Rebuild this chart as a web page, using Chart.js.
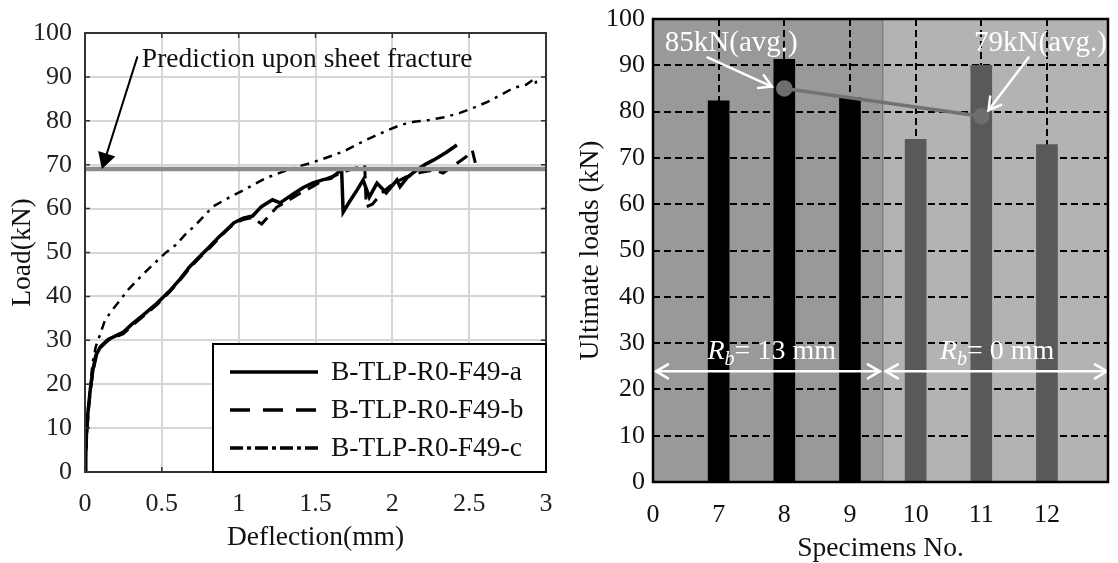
<!DOCTYPE html>
<html>
<head>
<meta charset="utf-8">
<script src="https://cdn.jsdelivr.net/npm/chart.js@4.4.1/dist/chart.umd.min.js"></script>
<style>
  html, body { margin: 0; padding: 0; background: #fff; }
  #left-box { position: absolute; left: 0; top: 0; width: 560px; height: 563px; }
  #right-box { position: absolute; left: 560px; top: 0; width: 558px; height: 563px; }
</style>
</head>
<body>
<div id="left-box"><canvas id="load-deflection-chart"></canvas></div>
<div id="right-box"><canvas id="ultimate-load-chart"></canvas></div>
<script>
// ---------- left chart: load vs deflection ----------
const seriesNames = ['B-TLP-R0-F49-a', 'B-TLP-R0-F49-b', 'B-TLP-R0-F49-c'];

const deflectionA = [0, 0.005, 0.01, 0.02, 0.035, 0.05, 0.07, 0.1, 0.15, 0.2, 0.25, 0.3, 0.38, 0.47, 0.55, 0.62, 0.68, 0.75, 0.81, 0.87, 0.92, 0.97, 1.03, 1.09, 1.15, 1.22, 1.27, 1.35, 1.42, 1.48, 1.55, 1.6, 1.65, 1.67, 1.68, 1.72, 1.77, 1.81, 1.85, 1.9, 1.96, 2.03, 2.05, 2.1, 2.16, 2.22, 2.27, 2.35, 2.42];
const loadA = [0, 4, 9, 14, 19, 23, 26.5, 28.5, 30.2, 31, 31.9, 33.5, 35.8, 38.5, 41.2, 44, 46.7, 49.2, 51.3, 53.5, 55.1, 56.8, 57.8, 58.3, 60.5, 62, 61.3, 63.2, 64.8, 65.8, 66.6, 66.9, 68.3, 68.8, 59.2, 61.5, 64.2, 66.5, 62.6, 65.8, 63.6, 66.5, 65, 67.2, 68.8, 70.2, 71.1, 72.8, 74.5];

const deflectionB = [0, 0.005, 0.012, 0.022, 0.037, 0.052, 0.075, 0.1, 0.15, 0.2, 0.25, 0.3, 0.38, 0.47, 0.55, 0.62, 0.68, 0.75, 0.81, 0.87, 0.92, 0.97, 1.03, 1.09, 1.12, 1.15, 1.2, 1.25, 1.32, 1.4, 1.48, 1.55, 1.66, 1.72, 1.79, 1.82, 1.83, 1.87, 1.93, 1.98, 2.04, 2.09, 2.18, 2.27, 2.33, 2.4, 2.48, 2.52, 2.54];
const loadB = [0, 4, 9, 14, 19, 23, 26.5, 28.3, 30, 30.8, 31.5, 33.2, 35.5, 38.2, 41, 43.8, 46.4, 49, 51, 53.2, 55, 56.6, 57.5, 58, 57.2, 56.5, 58.5, 60.4, 61.8, 63.5, 65, 66.5, 68, 68.8, 69.5, 70, 60.4, 61, 63.5, 65, 66.3, 67.2, 68.2, 68.8, 68.1, 69.8, 71.8, 73.3, 70.4];

const deflectionC = [0, 0.008, 0.015, 0.025, 0.035, 0.05, 0.07, 0.1, 0.13, 0.18, 0.23, 0.28, 0.34, 0.4, 0.46, 0.52, 0.59, 0.65, 0.72, 0.78, 0.83, 0.92, 1.01, 1.1, 1.18, 1.28, 1.38, 1.46, 1.53, 1.62, 1.7, 1.78, 1.87, 1.96, 2.05, 2.14, 2.24, 2.34, 2.44, 2.53, 2.62, 2.7, 2.79, 2.87, 2.93, 2.94];
const loadC = [0, 5, 10, 15, 20, 25, 28.5, 31.5, 34.6, 37, 39.2, 41.5, 43.7, 45.8, 47.8, 49.8, 51.7, 54, 56.3, 58.5, 60.4, 62.2, 63.8, 65.5, 67, 68.3, 69.5, 70.3, 71.1, 72.2, 73.3, 74.8, 76.3, 77.7, 79, 79.8, 80.2, 80.8, 81.8, 83, 84.3, 85.8, 87.5, 88.2, 89.7, 87.5];

const predictionLoad = 69; // kN, load predicted at sheet fracture
const predictionText = 'Prediction upon sheet fracture';

// ---------- right chart: ultimate loads ----------
const specimenNo = [7, 8, 9, 10, 11, 12];
const ultimateLoads = [82.3, 91.3, 83.0, 74.0, 90.0, 72.9];
const bendRadius = [13, 13, 13, 0, 0, 0]; // R_b in mm
const avgSpecimen = [8, 11];
const avgLoads = [85, 79];

const FONT = "'Times New Roman', 'Liberation Serif', serif";
Chart.defaults.font.family = FONT;
Chart.defaults.color = '#111';
Chart.defaults.animation = false;

const toPoints = (xs, ys) => xs.map((x, i) => ({ x: x, y: ys[i] }));

function arrowLine(ctx, x1, y1, x2, y2, opts) {
  const ang = Math.atan2(y2 - y1, x2 - x1);
  const len = opts.headLen, hw = opts.headHalf;
  ctx.save();
  ctx.strokeStyle = opts.color;
  ctx.fillStyle = opts.color;
  ctx.lineWidth = opts.width;
  ctx.lineCap = 'round';
  const bx = x2 - Math.cos(ang) * len, by = y2 - Math.sin(ang) * len;
  ctx.beginPath();
  ctx.moveTo(x1, y1);
  ctx.lineTo(opts.filled ? bx : x2, opts.filled ? by : y2);
  ctx.stroke();
  const lx = bx + Math.cos(ang + Math.PI / 2) * hw, ly = by + Math.sin(ang + Math.PI / 2) * hw;
  const rx = bx - Math.cos(ang + Math.PI / 2) * hw, ry = by - Math.sin(ang + Math.PI / 2) * hw;
  ctx.beginPath();
  if (opts.filled) {
    ctx.moveTo(x2, y2); ctx.lineTo(lx, ly); ctx.lineTo(rx, ry); ctx.closePath(); ctx.fill();
  } else {
    ctx.lineJoin = 'miter';
    ctx.moveTo(lx, ly); ctx.lineTo(x2, y2); ctx.lineTo(rx, ry); ctx.stroke();
  }
  ctx.restore();
}

// keep the chart area where the layout padding puts it
const noEdgePadding = s => { s.paddingLeft = 0; s.paddingRight = 0; s.paddingTop = 0; s.paddingBottom = 0; };

// annotations, border, inner ticks and legend for the left chart
const leftDecor = {
  id: 'leftDecor',
  afterDatasetsDraw(chart) {
    const { ctx, chartArea: a, scales: { x, y } } = chart;
    // prediction line
    ctx.save();
    ctx.strokeStyle = '#8c8c8c';
    ctx.lineWidth = 4.5;
    const py = y.getPixelForValue(predictionLoad);
    ctx.beginPath(); ctx.moveTo(a.left, py); ctx.lineTo(a.right, py); ctx.stroke();
    ctx.restore();

    arrowLine(ctx, x.getPixelForValue(0.34), y.getPixelForValue(94.5),
      x.getPixelForValue(0.11), py, { color: '#000', width: 2, headLen: 16, headHalf: 9, filled: true });

    ctx.save();
    ctx.font = '27.5px ' + FONT;
    ctx.fillStyle = '#111';
    ctx.textBaseline = 'middle';
    ctx.fillText(predictionText, x.getPixelForValue(0.37), y.getPixelForValue(94));
    ctx.restore();

    // border and inner ticks
    ctx.save();
    ctx.strokeStyle = '#333';
    ctx.lineWidth = 1.5;
    ctx.beginPath();
    x.ticks.forEach(t => {
      const px = x.getPixelForValue(t.value);
      ctx.moveTo(px, a.bottom); ctx.lineTo(px, a.bottom - 5);
      ctx.moveTo(px, a.top); ctx.lineTo(px, a.top + 5);
    });
    y.ticks.forEach(t => {
      const p = y.getPixelForValue(t.value);
      ctx.moveTo(a.left, p); ctx.lineTo(a.left + 5, p);
      ctx.moveTo(a.right, p); ctx.lineTo(a.right - 5, p);
    });
    ctx.stroke();
    ctx.lineWidth = 2;
    ctx.strokeRect(a.left, a.top, a.right - a.left, a.bottom - a.top);
    ctx.restore();

    // legend box
    const bx = a.right - 333, by = a.bottom - 128;
    ctx.save();
    ctx.fillStyle = '#fff';
    ctx.fillRect(bx, by, 333, 128);
    ctx.strokeStyle = '#000';
    ctx.lineWidth = 2;
    ctx.strokeRect(bx, by, 333, 128);
    ctx.font = '27.5px ' + FONT;
    ctx.textBaseline = 'middle';
    chart.data.datasets.forEach((ds, i) => {
      const ry = by + 28 + i * 38;
      ctx.strokeStyle = '#000';
      ctx.lineWidth = 3.5;
      ctx.setLineDash(ds.legendDash || []);
      ctx.beginPath(); ctx.moveTo(bx + 17, ry); ctx.lineTo(bx + 105, ry); ctx.stroke();
      ctx.setLineDash([]);
      ctx.fillStyle = '#111';
      ctx.fillText(ds.label, bx + 118, ry + 1);
    });
    ctx.restore();
  }
};

new Chart(document.getElementById('load-deflection-chart'), {
  type: 'line',
  data: {
    datasets: [
      { label: seriesNames[0], data: toPoints(deflectionA, loadA), borderColor: '#000', borderWidth: 3.5, pointRadius: 0, legendDash: [] },
      { label: seriesNames[1], data: toPoints(deflectionB, loadB), borderColor: '#000', borderWidth: 3, pointRadius: 0, borderDash: [13, 8], legendDash: [20, 13] },
      { label: seriesNames[2], data: toPoints(deflectionC, loadC), borderColor: '#000', borderWidth: 2.5, pointRadius: 0, borderDash: [9, 6, 3, 6], legendDash: [13, 4, 4, 4] }
    ]
  },
  options: {
    responsive: true,
    maintainAspectRatio: false,
    layout: { padding: { top: 33, right: 14, left: 0, bottom: 0 } },
    plugins: { legend: { display: false }, tooltip: { enabled: false } },
    scales: {
      x: {
        type: 'linear', min: 0, max: 3,
        ticks: { stepSize: 0.5, padding: 17, maxRotation: 0, font: { size: 26 }, color: '#222', callback: v => String(v) },
        grid: { color: '#d6d6d6', lineWidth: 2, drawTicks: false },
        border: { display: false },
        title: { display: true, text: 'Deflection(mm)', font: { size: 27.5 }, color: '#111', padding: { top: 0, bottom: 9 } },
        afterFit: s => { s.height = 91; noEdgePadding(s); }
      },
      y: {
        type: 'linear', min: 0, max: 100,
        ticks: { stepSize: 10, padding: 13, font: { size: 26 }, color: '#222' },
        grid: { color: '#d6d6d6', lineWidth: 2, drawTicks: false },
        border: { display: false },
        title: { display: true, text: 'Load(kN)', font: { size: 27.5 }, color: '#111', padding: { top: 6, bottom: 0 } },
        afterFit: s => { s.width = 85; noEdgePadding(s); }
      }
    }
  },
  plugins: [leftDecor]
});

// ---------- right chart ----------
const barPos = specimenNo.map((n, i) => i + 1);
const posOf = n => specimenNo.indexOf(n) + 1;
const groupSplit = (() => {
  const k = bendRadius.findIndex(r => r !== bendRadius[0]);
  return (barPos[k - 1] + barPos[k]) / 2;
})();

function drawRb(ctx, px, py, rest) {
  ctx.save();
  ctx.fillStyle = '#fff';
  ctx.textBaseline = 'alphabetic';
  ctx.font = 'italic 28px ' + FONT;
  ctx.fillText('R', px, py);
  let cx = px + ctx.measureText('R').width;
  ctx.font = 'italic 20px ' + FONT;
  ctx.fillText('b', cx, py + 6);
  cx += ctx.measureText('b').width;
  ctx.font = '28px ' + FONT;
  ctx.fillText(rest, cx, py);
  ctx.restore();
}

const rightDecor = {
  id: 'rightDecor',
  beforeDraw(chart) {
    const { ctx, chartArea: a, scales: { x } } = chart;
    const sx = x.getPixelForValue(groupSplit);
    ctx.save();
    ctx.fillStyle = '#999999';
    ctx.fillRect(a.left, a.top, sx - a.left, a.bottom - a.top);
    ctx.fillStyle = '#b3b3b3';
    ctx.fillRect(sx, a.top, a.right - sx, a.bottom - a.top);
    ctx.strokeStyle = '#6a6a6a';
    ctx.lineWidth = 1;
    ctx.beginPath(); ctx.moveTo(sx, a.top); ctx.lineTo(sx, a.bottom); ctx.stroke();
    ctx.restore();
  },
  afterDatasetsDraw(chart) {
    const { ctx, chartArea: a, scales: { x, y } } = chart;
    const white = { color: '#fff', width: 2.5, headLen: 12, headHalf: 7, filled: false };
    ctx.save();
    ctx.font = '29px ' + FONT;
    ctx.fillStyle = '#fff';
    ctx.textBaseline = 'middle';
    ctx.fillText(avgLoads[0] + 'kN(avg.)', x.getPixelForValue(0.18), y.getPixelForValue(94.7));
    ctx.fillText(avgLoads[1] + 'kN(avg.)', x.getPixelForValue(4.89), y.getPixelForValue(94.7));
    ctx.restore();
    arrowLine(ctx, x.getPixelForValue(0.83), y.getPixelForValue(91.7), x.getPixelForValue(1.81), y.getPixelForValue(85.4), white);
    arrowLine(ctx, x.getPixelForValue(5.72), y.getPixelForValue(91.7), x.getPixelForValue(5.11), y.getPixelForValue(80.3), white);

    // R_b group labels with double arrows
    const ay = y.getPixelForValue(23.9);
    const sx = x.getPixelForValue(groupSplit);
    const dbl = (x1, x2) => {
      arrowLine(ctx, (x1 + x2) / 2, ay, x1, ay, white);
      arrowLine(ctx, (x1 + x2) / 2, ay, x2, ay, white);
    };
    dbl(a.left + 3, sx - 3);
    dbl(sx + 3, a.right - 1);
    drawRb(ctx, x.getPixelForValue(0.83), y.getPixelForValue(26.5), '= ' + bendRadius[0] + ' mm');
    drawRb(ctx, x.getPixelForValue(4.37), y.getPixelForValue(26.5), '= ' + bendRadius[3] + ' mm');

    ctx.save();
    ctx.strokeStyle = '#000';
    ctx.lineWidth = 2.5;
    ctx.strokeRect(a.left, a.top, a.right - a.left, a.bottom - a.top);
    ctx.restore();
  }
};

new Chart(document.getElementById('ultimate-load-chart'), {
  type: 'bar',
  data: {
    datasets: [
      {
        type: 'line',
        data: avgSpecimen.map((n, i) => ({ x: posOf(n), y: avgLoads[i] })),
        borderColor: '#727272',
        borderWidth: 3.5,
        pointRadius: 6.5,
        pointBackgroundColor: '#6e6e6e',
        pointBorderColor: '#6e6e6e',
        order: 0
      },
      {
        data: barPos.map((p, i) => ({ x: p, y: ultimateLoads[i] })),
        backgroundColor: bendRadius.map(r => r === bendRadius[0] ? '#000000' : '#595959'),
        barThickness: 21,
        order: 1
      }
    ]
  },
  options: {
    responsive: true,
    maintainAspectRatio: false,
    layout: { padding: { top: 19, right: 5, left: 0, bottom: 0 } },
    plugins: { legend: { display: false }, tooltip: { enabled: false } },
    scales: {
      x: {
        type: 'linear', min: 0, max: 6.93, offset: false,
        afterBuildTicks: s => { s.ticks = [0].concat(barPos).map(v => ({ value: v })); },
        ticks: {
          padding: 18, maxRotation: 0, autoSkip: false, font: { size: 26 }, color: '#111',
          callback: v => v === 0 ? '0' : String(specimenNo[v - 1])
        },
        grid: { color: '#000', lineWidth: 2, drawTicks: false, offset: false },
        border: { display: false, dash: [7, 4] },
        title: { display: true, text: 'Specimens No.', font: { size: 27.5 }, color: '#111', padding: { top: 0, bottom: -2 } },
        afterFit: s => { s.height = 81; noEdgePadding(s); }
      },
      y: {
        type: 'linear', min: 0, max: 100,
        ticks: { stepSize: 10, padding: 8, font: { size: 26 }, color: '#111' },
        grid: { color: '#000', lineWidth: 2, drawTicks: false },
        border: { display: false, dash: [7, 4] },
        title: { display: true, text: 'Ultimate loads (kN)', font: { size: 27.5 }, color: '#111', padding: { top: 14, bottom: 0 } },
        afterFit: s => { s.width = 93; noEdgePadding(s); }
      }
    }
  },
  plugins: [rightDecor]
});
</script>
</body>
</html>
